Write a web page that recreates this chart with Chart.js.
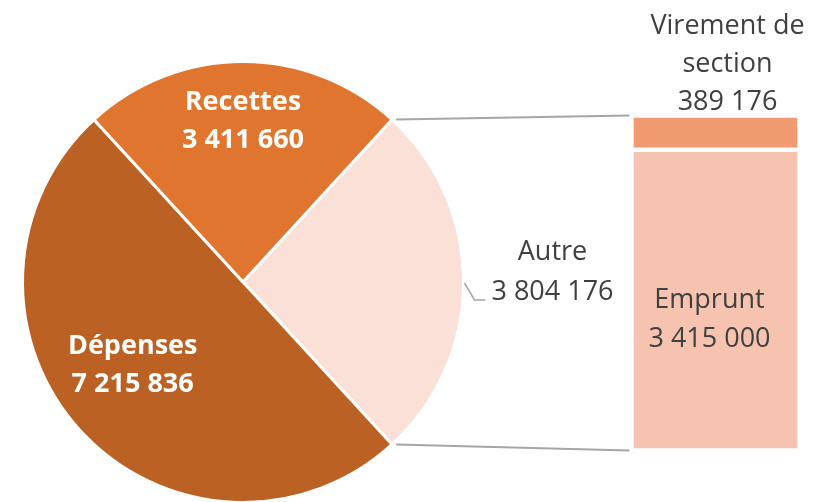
<!DOCTYPE html>
<html>
<head>
<meta charset="utf-8">
<script src="https://cdn.jsdelivr.net/npm/chart.js@4.4.1/dist/chart.umd.min.js"></script>
<style>
  html, body { margin: 0; padding: 0; background: #fff; overflow: hidden; }
  #wrap { position: relative; width: 825px; height: 502px; overflow: hidden; }
  #wrap canvas { position: absolute; left: 0; top: 0; }
</style>
</head>
<body>
<div id="wrap">
  <canvas id="camembert" width="825" height="520"></canvas>
  <canvas id="barre" width="825" height="502"></canvas>
</div>
<script>
// Données du camembert principal
const pieLabels = ['Autre', 'Dépenses', 'Recettes'];
const pieValues = [3804176, 7215836, 3411660];
const pieColors = ['#FBE0D8', '#BA6123', '#DF752F'];

// Détail de "Autre" (barre empilée)
const barLabels = ['Emprunt', 'Virement de section'];
const barValues = [3415000, 389176];
const barColors = ['#F5C3B0', '#F09A70'];

const FONT = "'Open Sans', sans-serif";
const GRIS = '#404040';

const fmt = v => v.toString().replace(/\B(?=(\d{3})+(?!\d))/g, ' ');

const total = pieValues.reduce((a, b) => a + b, 0);
// "Autre" centré sur l'horizontale à droite
const rotation = 90 - (pieValues[0] / total * 360) / 2;

function texteLignes(ctx, lignes, x, y, pas) {
  lignes.forEach((l, i) => ctx.fillText(l, x, y + i * pas));
}

const etiquettesCamembert = {
  id: 'etiquettesCamembert',
  afterDraw(chart) {
    const ctx = chart.ctx;
    const arcs = chart.getDatasetMeta(0).data;
    ctx.save();
    ctx.textAlign = 'center';
    ctx.textBaseline = 'middle';

    // étiquettes intérieures (blanc gras)
    const facteurs = { 1: 0.63, 2: 0.73 };
    ctx.fillStyle = '#fff';
    ctx.font = 'bold 27px ' + FONT;
    [1, 2].forEach(i => {
      const a = arcs[i];
      const mid = (a.startAngle + a.endAngle) / 2;
      const d = a.outerRadius * facteurs[i];
      let x = a.x + Math.cos(mid) * d;
      let y = a.y + Math.sin(mid) * d;
      if (i === 1) { x -= 8; y -= 11; }
      texteLignes(ctx, [pieLabels[i], fmt(pieValues[i])], x, y - 19, 38);
    });

    // étiquette extérieure "Autre" avec ligne de rappel
    const a = arcs[0];
    const ex = a.x + a.outerRadius;
    ctx.strokeStyle = '#A6A6A6';
    ctx.lineWidth = 1.5;
    ctx.beginPath();
    ctx.moveTo(ex + 1, a.y + 1);
    ctx.lineTo(ex + 11, a.y + 18);
    ctx.lineTo(ex + 22, a.y + 18);
    ctx.stroke();
    ctx.fillStyle = GRIS;
    ctx.font = '27px ' + FONT;
    texteLignes(ctx, [pieLabels[0], fmt(pieValues[0])], ex + 89, a.y - 30, 40);
    ctx.restore();
  }
};

const pieChart = new Chart(document.getElementById('camembert'), {
  type: 'pie',
  data: {
    labels: pieLabels,
    datasets: [{
      data: pieValues,
      backgroundColor: pieColors,
      borderColor: '#fff',
      borderWidth: 3
    }]
  },
  options: {
    responsive: false,
    animation: false,
    rotation: rotation,
    layout: { padding: { left: 21, top: 60, right: 360, bottom: 16 } },
    plugins: { legend: { display: false }, tooltip: { enabled: false } }
  },
  plugins: [etiquettesCamembert]
});

const liaisonEtEtiquettes = {
  id: 'liaisonEtEtiquettes',
  afterDraw(chart) {
    const ctx = chart.ctx;
    const arc = pieChart.getDatasetMeta(0).data[0];
    const emprunt = chart.getDatasetMeta(0).data[0];
    const virement = chart.getDatasetMeta(1).data[0];
    const gauche = emprunt.x - emprunt.width / 2;
    const r = arc.outerRadius;

    ctx.save();
    // lignes de liaison camembert -> barre
    ctx.strokeStyle = '#A6A6A6';
    ctx.lineWidth = 2;
    ctx.beginPath();
    ctx.moveTo(arc.x + Math.cos(arc.startAngle) * r + 4, arc.y + Math.sin(arc.startAngle) * r);
    ctx.lineTo(gauche - 2, virement.y);
    ctx.moveTo(arc.x + Math.cos(arc.endAngle) * r + 4, arc.y + Math.sin(arc.endAngle) * r);
    ctx.lineTo(gauche - 2, emprunt.base);
    ctx.stroke();

    ctx.fillStyle = GRIS;
    ctx.font = '27px ' + FONT;
    ctx.textAlign = 'center';
    ctx.textBaseline = 'middle';
    // Emprunt (dans la barre)
    texteLignes(ctx, [barLabels[0], fmt(barValues[0])], emprunt.x - 6, emprunt.y + 151, 39);
    // Virement de section (au-dessus)
    texteLignes(ctx, ['Virement de', 'section', fmt(barValues[1])], virement.x + 12, virement.y - 89, 38);
    ctx.restore();
  }
};

new Chart(document.getElementById('barre'), {
  type: 'bar',
  data: {
    labels: ['Autre'],
    datasets: barValues.map((v, i) => ({
      label: barLabels[i],
      data: [v],
      backgroundColor: barColors[i],
      borderColor: '#fff',
      borderWidth: 2.5,
      borderSkipped: false,
      barPercentage: 1,
      categoryPercentage: 1
    }))
  },
  options: {
    responsive: false,
    animation: false,
    layout: { padding: { left: 631.5, top: 115.5, right: 25.5, bottom: 51.5 } },
    scales: {
      x: { display: false, stacked: true },
      y: { display: false, stacked: true, min: 0, max: pieValues[0] }
    },
    plugins: { legend: { display: false }, tooltip: { enabled: false } }
  },
  plugins: [liaisonEtEtiquettes]
});
</script>
</body>
</html>
